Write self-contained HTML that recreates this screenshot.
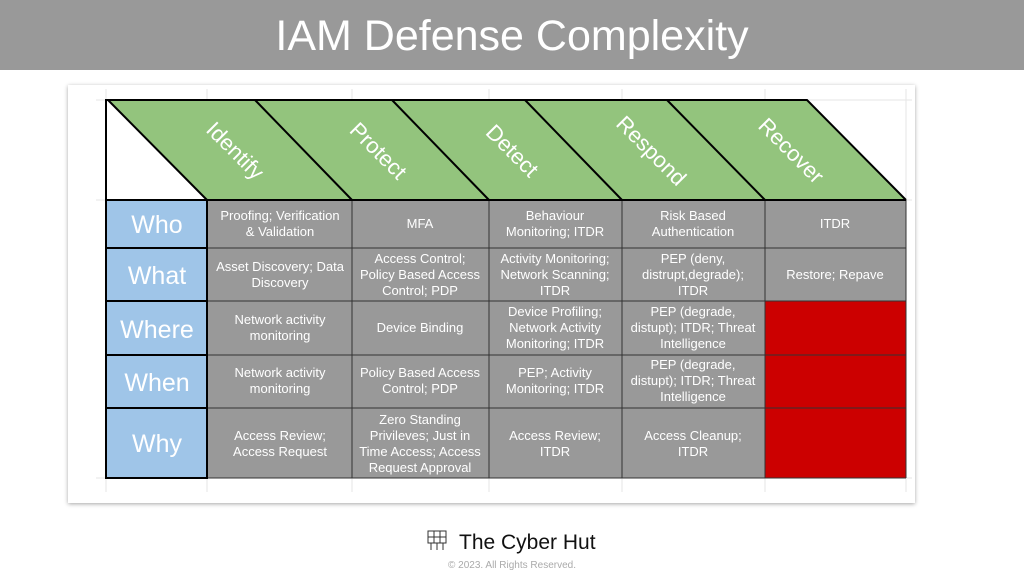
<!DOCTYPE html>
<html><head><meta charset="utf-8"><style>
html,body{margin:0;padding:0;width:1024px;height:582px;background:#fff;overflow:hidden;font-family:"Liberation Sans",sans-serif}
.title{position:absolute;left:0;top:0;width:1024px;height:70px;background:#999;color:#fff;font-size:43px;text-align:center;line-height:72px}
.card{position:absolute;left:68px;top:85px;width:847px;height:418px;background:#fff;box-shadow:0 1px 4px rgba(0,0,0,.35)}
svg{position:absolute;left:0;top:0}
</style></head><body>
<div class="title">IAM Defense Complexity</div>
<div class="card"></div>
<svg width="1024" height="582" font-family="Liberation Sans, sans-serif">
<g stroke="#e6e6e6" stroke-width="1">
<line x1="106" y1="89" x2="106" y2="492"/><line x1="207" y1="89" x2="207" y2="492"/><line x1="352" y1="89" x2="352" y2="492"/><line x1="489" y1="89" x2="489" y2="492"/><line x1="622" y1="89" x2="622" y2="492"/><line x1="765" y1="89" x2="765" y2="492"/><line x1="906" y1="89" x2="906" y2="492"/>
<line x1="96" y1="100" x2="912" y2="100"/><line x1="96" y1="200" x2="912" y2="200"/><line x1="96" y1="478" x2="912" y2="478"/>
</g>
<polygon points="108,100 807,100 906,200 207,200" fill="#93c47d"/>
<polygon points="106,100 108,100 207,200 106,200" fill="#fff"/>
<g stroke="#000" stroke-width="2" fill="none">
<polyline points="106,200 106,100 807,100 906,200"/>
<line x1="108" y1="100" x2="207" y2="200"/><line x1="255" y1="100" x2="352" y2="200"/><line x1="392" y1="100" x2="489" y2="200"/><line x1="525" y1="100" x2="622" y2="200"/><line x1="667" y1="100" x2="765" y2="200"/>
</g>
<g fill="#fff" font-size="22" text-anchor="middle">
<text transform="translate(230,156) rotate(45)">Identify</text>
<text transform="translate(373,156) rotate(45)">Protect</text>
<text transform="translate(507,156) rotate(45)">Detect</text>
<text transform="translate(646,156) rotate(45)">Respond</text>
<text transform="translate(786,156) rotate(45)">Recover</text>
</g>
<rect x="207" y="200" width="699" height="278" fill="#999"/>
<rect x="765" y="301" width="141" height="177" fill="#cc0000"/>
<rect x="106" y="200" width="101" height="278" fill="#9fc5e8"/>
<g stroke="#333" stroke-width="1">
<line x1="207" y1="248" x2="906" y2="248"/><line x1="207" y1="301" x2="906" y2="301"/><line x1="207" y1="355" x2="906" y2="355"/><line x1="207" y1="408" x2="906" y2="408"/>
<line x1="352" y1="200" x2="352" y2="478"/><line x1="489" y1="200" x2="489" y2="478"/><line x1="622" y1="200" x2="622" y2="478"/><line x1="765" y1="200" x2="765" y2="478"/>
<line x1="906" y1="200" x2="906" y2="478"/><line x1="207" y1="478" x2="906" y2="478"/>
</g>
<g stroke="#000" stroke-width="2" fill="none">
<rect x="106" y="200" width="101" height="48"/><rect x="106" y="248" width="101" height="53"/><rect x="106" y="301" width="101" height="54"/><rect x="106" y="355" width="101" height="53"/><rect x="106" y="408" width="101" height="70"/>
<line x1="207" y1="200" x2="906" y2="200"/>
</g>
<g fill="#fff" font-size="25" text-anchor="middle">
<text x="157" y="233">Who</text><text x="157" y="284">What</text><text x="157" y="338">Where</text><text x="157" y="391">When</text><text x="157" y="452">Why</text>
</g>
<g fill="#fff" font-size="13" text-anchor="middle">
<text x="280" y="220">Proofing; Verification</text><text x="280" y="236">&amp; Validation</text>
<text x="420" y="228">MFA</text>
<text x="555" y="220">Behaviour</text><text x="555" y="236">Monitoring; ITDR</text>
<text x="693" y="220">Risk Based</text><text x="693" y="236">Authentication</text>
<text x="835" y="228">ITDR</text>
<text x="280" y="271">Asset Discovery; Data</text><text x="280" y="287">Discovery</text>
<text x="420" y="263">Access Control;</text><text x="420" y="279">Policy Based Access</text><text x="420" y="295">Control; PDP</text>
<text x="555" y="263">Activity Monitoring;</text><text x="555" y="279">Network Scanning;</text><text x="555" y="295">ITDR</text>
<text x="693" y="263">PEP (deny,</text><text x="693" y="279">distrupt,degrade);</text><text x="693" y="295">ITDR</text>
<text x="835" y="279">Restore; Repave</text>
<text x="280" y="324">Network activity</text><text x="280" y="340">monitoring</text>
<text x="420" y="332">Device Binding</text>
<text x="555" y="316">Device Profiling;</text><text x="555" y="332">Network Activity</text><text x="555" y="348">Monitoring; ITDR</text>
<text x="693" y="316">PEP (degrade,</text><text x="693" y="332">distupt); ITDR; Threat</text><text x="693" y="348">Intelligence</text>
<text x="280" y="377">Network activity</text><text x="280" y="393">monitoring</text>
<text x="420" y="377">Policy Based Access</text><text x="420" y="393">Control; PDP</text>
<text x="555" y="377">PEP; Activity</text><text x="555" y="393">Monitoring; ITDR</text>
<text x="693" y="369">PEP (degrade,</text><text x="693" y="385">distupt); ITDR; Threat</text><text x="693" y="401">Intelligence</text>
<text x="280" y="440">Access Review;</text><text x="280" y="456">Access Request</text>
<text x="420" y="424">Zero Standing</text><text x="420" y="440">Privileves; Just in</text><text x="420" y="456">Time Access; Access</text><text x="420" y="472">Request Approval</text>
<text x="555" y="440">Access Review;</text><text x="555" y="456">ITDR</text>
<text x="693" y="440">Access Cleanup;</text><text x="693" y="456">ITDR</text>
</g>
<g stroke="#333" stroke-width="1" fill="none">
<rect x="428" y="531" width="18" height="12"/><line x1="434" y1="531" x2="434" y2="543"/><line x1="440" y1="531" x2="440" y2="543"/><line x1="428" y1="537" x2="446" y2="537"/>
<line x1="431" y1="543" x2="431" y2="550"/><line x1="437" y1="543" x2="437" y2="550"/><line x1="443" y1="543" x2="443" y2="550"/>
</g>
<text x="459" y="549" font-size="21" fill="#111">The Cyber Hut</text>
<text x="512" y="568" font-size="10" fill="#aaa" text-anchor="middle">© 2023. All Rights Reserved.</text>
</svg>
</body></html>
